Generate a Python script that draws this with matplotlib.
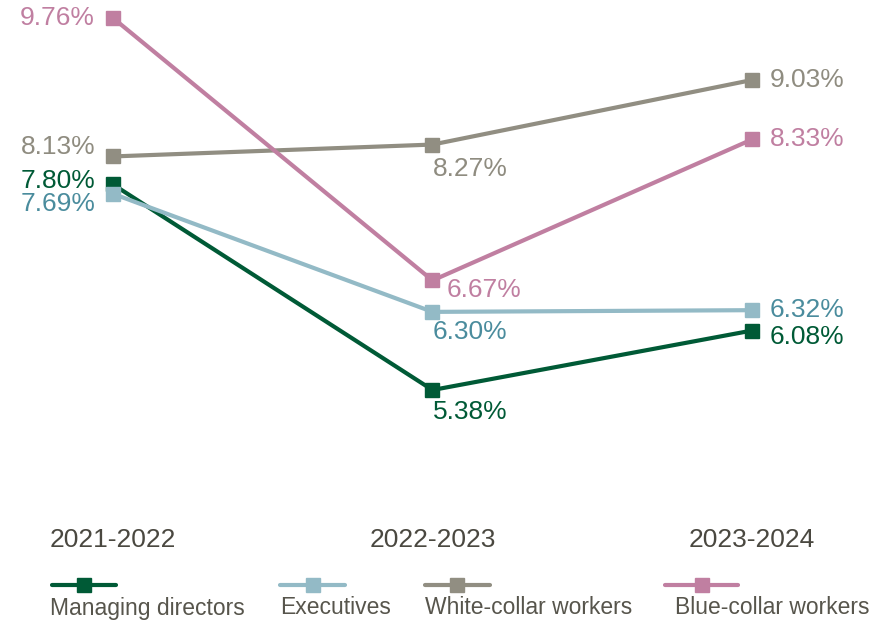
import matplotlib.pyplot as plt
from matplotlib.lines import Line2D
from matplotlib.transforms import blended_transform_factory

plt.rcParams["font.family"] = ["Liberation Sans", "DejaVu Sans"]

years = ["2021-2022", "2022-2023", "2023-2024"]
series = ["Managing directors", "Executives", "White-collar workers", "Blue-collar workers"]
managing = [7.80, 5.38, 6.08]
executives = [7.69, 6.30, 6.32]
white_collar = [8.13, 8.27, 9.03]
blue_collar = [9.76, 6.67, 8.33]

line_colors = ["#005a36", "#93bac6", "#918e82", "#c07fa1"]
label_colors = ["#005a36", "#4a8c9d", "#8f8c80", "#c07fa1"]

# label offsets in pixels (dx, dy, ha) per point
offsets = [
    [(-18, 3, "right"), (0, -22, "left"), (18, -6, "left")],
    [(-18, -10, "right"), (0, -20, "left"), (18, 0, "left")],
    [(-18, 9, "right"), (0, -24, "left"), (18, 0, "left")],
    [(-18, 0, "right"), (14, -10, "left"), (18, 0, "left")],
]

fig = plt.figure(figsize=(8.85, 6.24), dpi=100)
ax = fig.add_axes([0, 0, 1, 1])
ax.set_xlim(-0.3537, 2.4163)
ax.set_ylim(2.625, 9.972)
ax.axis("off")

x = list(range(len(years)))
all_values = [managing, executives, white_collar, blue_collar]
for vals, lc, tc, offs in zip(all_values, line_colors, label_colors, offsets):
    ax.plot(x, vals, color=lc, lw=3, marker="s", markersize=10, solid_capstyle="butt")
    for xi, v, (dx, dy, ha) in zip(x, vals, offs):
        ax.annotate(f"{v:.2f}%", (xi, v), xytext=(dx, dy), textcoords="offset pixels",
                    ha=ha, va="center", fontsize=19, color=tc)

trans = blended_transform_factory(ax.transData, fig.transFigure)
for xi, yr in zip(x, years):
    ax.text(xi, 1 - 540 / 624, yr, transform=trans, ha="center", va="center",
            fontsize=19, color="#4a4840")

# legend: handle above text
leg_x = [(52, 116, 50), (280, 345, 280), (425, 490, 425), (665, 738, 675)]
for (x0, x1, tx), name, lc in zip(leg_x, series, line_colors):
    fig.add_artist(Line2D([x0 / 885, x1 / 885], [1 - 585 / 624] * 2, color=lc, lw=3,
                          solid_capstyle="round", transform=fig.transFigure))
    fig.add_artist(Line2D([(x0 + x1) / 2 / 885], [1 - 585 / 624], color=lc, marker="s",
                          markersize=10, transform=fig.transFigure))
    fig.text(tx / 885, 1 - 608 / 624, name, ha="left", va="center", fontsize=16.5,
             color="#57554c", family=["Liberation Sans Narrow", "Liberation Sans", "DejaVu Sans"])

fig.savefig("out.png", dpi=100)
